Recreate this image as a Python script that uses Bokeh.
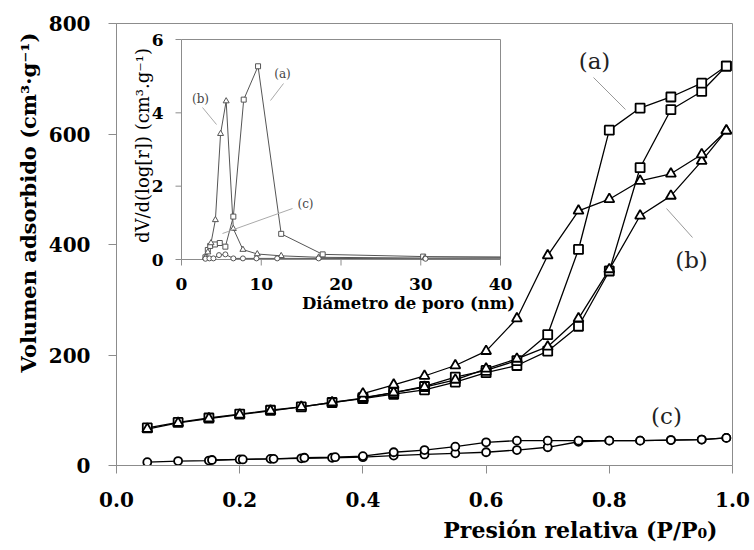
import math
from bokeh.plotting import figure
from bokeh.models import Range1d, Label, NumeralTickFormatter, FixedTicker, Title
from bokeh.core.properties import value
from bokeh.embed import file_html
from bokeh.resources import INLINE

# ---------------- data: main isotherms ----------------
p_ads = [0.05, 0.10, 0.15, 0.20, 0.25, 0.30, 0.35, 0.40, 0.45, 0.50,
         0.55, 0.60, 0.65, 0.70, 0.75, 0.80, 0.85, 0.90, 0.95, 0.99]
a_ads = [68, 78, 86, 93, 100, 106, 114, 121, 129, 137,
         151, 168, 181, 207, 252, 352, 539, 644, 677, 723]
b_ads = [66, 77, 85, 92, 99, 106, 114, 122, 132, 142,
         155, 175, 193, 215, 266, 355, 452, 488, 551, 606]
c_ads = [6, 8, 9, 11, 12, 13, 14, 15, 18, 20,
         22, 24, 28, 33, 43, 45, 45, 46, 47, 50]

p_des = [0.99, 0.95, 0.90, 0.85, 0.80, 0.75, 0.70, 0.65, 0.60, 0.55, 0.50, 0.45, 0.40]
a_des = [723, 692, 667, 647, 607, 391, 237, 190, 172, 160, 143, 132, 123]
b_des = [606, 563, 528, 515, 482, 461, 380, 266, 207, 181, 162, 146, 130]

p_des_c = [0.99, 0.95, 0.90, 0.85, 0.80, 0.75, 0.70, 0.65, 0.60, 0.55, 0.50, 0.45,
           0.40, 0.355, 0.305, 0.255, 0.205, 0.155]
c_des = [50, 47, 46, 45, 45, 45, 45, 45, 42, 34, 28, 24, 17, 15, 14, 12, 11, 10]

# ---------------- data: inset pore size distribution ----------------
ia_x = [3.0, 3.3, 3.6, 4.2, 4.8, 5.5, 6.5, 7.8, 9.6, 12.5, 17.7, 30.3, 40.0]
ia_y = [0.06, 0.26, 0.37, 0.41, 0.45, 0.35, 1.17, 4.36, 5.27, 0.70, 0.14, 0.08, 0.07]
ib_x = [3.0, 3.3, 3.7, 4.25, 4.9, 5.6, 6.5, 7.7, 9.5, 12.5, 17.2, 30.5, 40.0]
ib_y = [0.05, 0.20, 0.45, 1.08, 3.43, 4.32, 0.84, 0.27, 0.15, 0.10, 0.06, 0.04, 0.05]
ic_x = [3.0, 3.5, 4.0, 4.7, 5.5, 6.5, 7.7, 9.4, 12.0, 17.2, 30.6, 40.0]
ic_y = [0.02, 0.03, 0.03, 0.12, 0.14, 0.03, 0.03, 0.03, 0.03, 0.03, 0.02, 0.02]

x_ticks = [0.0, 0.2, 0.4, 0.6, 0.8, 1.0]
y_ticks = [0, 200, 400, 600, 800]
ix_ticks = [0, 10, 20, 30, 40]
iy_ticks = [0, 2, 4, 6]

# ---------------- layout constants (page pixels) ----------------
W, H = 754, 550
FL, FR, FT, FB = 116, 732, 23, 465          # main frame
IL, IR, IT, IB = 181, 500, 39, 259          # inset box
XMAX, YMAX = 1.0, 800.0
IXMAX, IYMAX = 40.0, 6.0

def mx(px): return (px - FL) / (FR - FL) * XMAX
def my(py): return (FB - py) / (FB - FT) * YMAX
def ix(px): return (px - IL) / (IR - IL) * IXMAX
def iy(py): return (IB - py) / (IB - IT) * IYMAX

SERIF = "DejaVu Serif"
GRAY = "#8c8c8c"

p = figure(width=W, height=H, output_backend="svg", toolbar_location=None,
           x_range=Range1d(0, XMAX), y_range=Range1d(0, YMAX),
           min_border_left=FL, min_border_right=W - FR,
           min_border_top=FT, min_border_bottom=H - FB)
p.extra_x_ranges = {"ix": Range1d(ix(FL), ix(FR))}
p.extra_y_ranges = {"iy": Range1d(iy(FB), iy(FT))}

p.xgrid.visible = False
p.ygrid.visible = False
p.outline_line_color = GRAY
p.outline_line_width = 1
p.background_fill_color = "white"
p.border_fill_color = "white"

for ax in (p.xaxis[0], p.yaxis[0]):
    ax.axis_line_color = GRAY
    ax.major_tick_line_color = GRAY
    ax.major_tick_out = 8
    ax.major_tick_in = 0
    ax.minor_tick_line_color = None
    ax.major_label_text_font = SERIF
    ax.major_label_text_font_style = "bold"
    ax.major_label_text_font_size = "20px"
    ax.major_label_text_color = "black"
p.xaxis[0].ticker = FixedTicker(ticks=x_ticks)
p.yaxis[0].ticker = FixedTicker(ticks=y_ticks)
p.xaxis[0].formatter = NumeralTickFormatter(format="0.0")
p.xaxis[0].major_label_standoff = 18
p.yaxis[0].major_label_standoff = 18

# axis titles as side titles
p.add_layout(Title(text="Presión relativa (P/P\u2080)", align="right", offset=15,
                   standoff=11, text_font=SERIF, text_font_style="bold",
                   text_font_size="22px", text_color="black"), "below")
p.add_layout(Title(text="Volumen adsorbido (cm\u00b3\u00b7g\u207b\u00b9)", align="right",
                   offset=9, text_font=SERIF, text_font_style="bold",
                   text_font_size="21px", text_color="black"), "left")

# ---------------- main isotherm series ----------------
LW = 1.3
MLW = 1.8
for xs, ys in ((p_ads, a_ads), (p_des, a_des), (p_ads, b_ads), (p_des, b_des),
               (p_ads, c_ads), (p_des_c, c_des)):
    p.line(xs, ys, line_color="black", line_width=LW)
for xs, ys in ((p_ads, a_ads), (p_des, a_des)):
    p.scatter(xs, ys, marker="square", size=9, fill_color="white",
              line_color="black", line_width=MLW)
for xs, ys in ((p_ads, b_ads), (p_des, b_des)):
    p.scatter(xs, ys, marker="triangle", size=10, fill_color="white",
              line_color="black", line_width=MLW)
for xs, ys in ((p_ads, c_ads), (p_des_c, c_des)):
    p.scatter(xs, ys, marker="circle", size=8, fill_color="white",
              line_color="black", line_width=MLW)

# main labels and leaders
for txt, (lx, ly) in (("(a)", (594, 60)), ("(b)", (691, 259)), ("(c)", (666, 415))):
    p.add_layout(Label(x=mx(lx), y=my(ly), text=txt, text_align="center",
                       text_baseline="middle", text_font=SERIF,
                       text_font_size="23px", text_color="#222222"))
p.segment(x0=[mx(593), mx(666)], y0=[my(77), my(208)],
          x1=[mx(625), mx(692)], y1=[my(109), my(237)],
          line_color="#999999", line_width=1)

# ---------------- inset ----------------
R = dict(x_range_name="ix", y_range_name="iy")
p.quad(left=[0], right=[IXMAX], bottom=[0], top=[IYMAX], fill_color="white",
       line_color=GRAY, line_width=1, **R)
tlen_x = ix(IL) - ix(IL - 6)
tlen_y = iy(IB) - iy(IB + 6)
p.segment(x0=ix_ticks, y0=[0] * len(ix_ticks), x1=ix_ticks,
          y1=[-tlen_y] * len(ix_ticks), line_color=GRAY, line_width=1, **R)
p.segment(x0=[0] * len(iy_ticks), y0=iy_ticks, x1=[-tlen_x] * len(iy_ticks),
          y1=iy_ticks, line_color=GRAY, line_width=1, **R)
p.text(x=ix_ticks, y=[iy(IB + 24)] * len(ix_ticks), text=[str(t) for t in ix_ticks],
       text_align="center", text_baseline="middle", text_font=value(SERIF),
       text_font_style="bold", text_font_size="17px", text_color="black", **R)
p.text(x=[ix(IL - 18)] * len(iy_ticks), y=iy_ticks, text=[str(t) for t in iy_ticks],
       text_align="right", text_baseline="middle", text_font=value(SERIF),
       text_font_style="bold", text_font_size="17px", text_color="black", **R)
p.text(x=[ix(408)], y=[iy(303)], text=["Diámetro de poro (nm)"],
       text_align="center", text_baseline="middle", text_font=value(SERIF),
       text_font_style="bold", text_font_size="16.5px", text_color="black", **R)
p.text(x=[ix(142)], y=[iy(145)], text=["dV/d(log[r]) (cm\u00b3.g\u207b\u00b9)"],
       angle=math.pi / 2, text_align="center", text_baseline="middle",
       text_font=value(SERIF), text_font_size="18px", text_color="black", **R)

ILC = "#555555"
p.line(ia_x, ia_y, line_color=ILC, line_width=1, **R)
p.line(ib_x, ib_y, line_color=ILC, line_width=1, **R)
p.line(ic_x, ic_y, line_color=ILC, line_width=1, **R)
p.scatter(ia_x[:-1], ia_y[:-1], marker="square", size=5, fill_color="white",
          line_color=ILC, line_width=1, **R)
p.scatter(ib_x[:-1], ib_y[:-1], marker="triangle", size=6, fill_color="white",
          line_color=ILC, line_width=1, **R)
p.scatter(ic_x[:-1], ic_y[:-1], marker="circle", size=5, fill_color="white",
          line_color=ILC, line_width=1, **R)

p.text(x=[ix(282), ix(200), ix(305)], y=[iy(73), iy(98), iy(203)],
       text=["(a)", "(b)", "(c)"], text_align="center", text_baseline="middle",
       text_font=value(SERIF), text_font_size="12px", text_color="#444444", **R)
p.segment(x0=[ix(283), ix(202), ix(292)], y0=[iy(83), iy(107), iy(208)],
          x1=[ix(270), ix(216), ix(222)], y1=[iy(100), iy(124), iy(233)],
          line_color="#aaaaaa", line_width=1, **R)

open("out.html", "w").write(file_html(p, INLINE))
